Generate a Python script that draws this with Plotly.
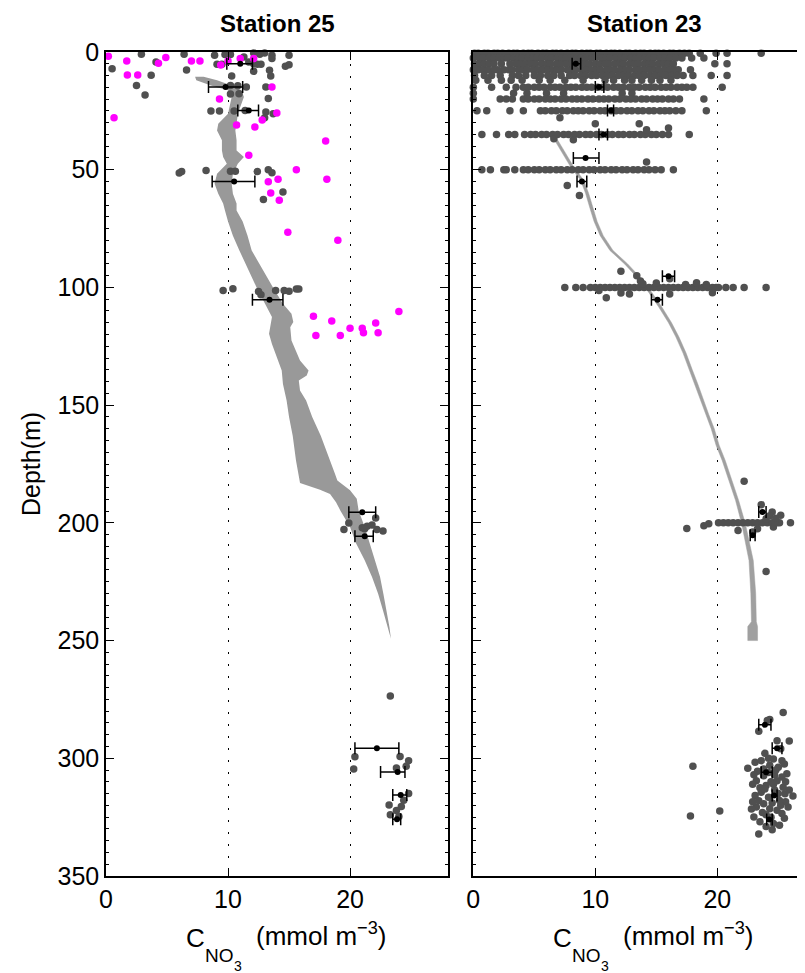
import plotly.graph_objects as go

# ---------------- Station 25 ----------------
s25_dots_x = [2.9, 6.4, 8.9, 9.75, 10.2, 11.3, 12.1, 12.6, 13.0, 13.6, 13.6, 15.0, 9.1, 9.5, 11.7, 12.1, 12.4, 12.7,
              14.7, 15.0, 0.5, 4.1, 6.6, 12.1, 13.4, 10.3, 13.5, 3.7, 2.5, 3.2, 10.2, 10.8, 11.5, 13.1, 10.2, 10.9,
              13.3, 8.6, 9.3, 10.5, 11.4, 13.1, 13.7, 13.0, 6.0, 6.2, 8.2, 10.2, 10.6, 12.4, 13.3, 13.6, 14.5, 12.9,
              9.6, 10.4, 12.5, 12.7, 13.9, 14.6, 15.0, 15.6, 15.8,
              22.1, 19.9, 19.5, 21.0, 21.4, 21.8, 22.2, 22.7, 21.2,
              23.3, 20.4, 20.3, 24.1, 24.8, 24.6, 23.8, 24.8, 24.4, 23.2, 24.2, 23.8, 23.3, 24.0]
s25_dots_y = [1.0, 1.0, 1.4, 1.1, 1.1, 2.1, 0.4, 1.0, 0.4, 1.4, 2.8, 1.4, 5.2, 5.2, 4.2, 5.0, 5.2, 5.2,
              6.1, 5.4, 7.1, 4.2, 7.6, 8.2, 7.8, 10.2, 10.2, 9.9, 14.2, 18.3, 14.2, 14.3, 14.9, 14.9, 17.8, 17.7,
              19.8, 25.1, 25.1, 25.1, 24.8, 25.5, 26.2, 27.9, 51.4, 50.8, 50.3, 50.6, 50.6, 50.8, 50.0, 51.3, 59.5, 62.7,
              101.3, 100.6, 101.7, 103.1, 101.3, 101.3, 101.6, 100.7, 100.7,
              197.9, 200.1, 202.8, 202.1, 201.4, 200.9, 202.8, 203.5, 202.5,
              273.5, 299.3, 304.5, 299.2, 301.0, 303.4, 304.1, 315.0, 317.8, 319.8, 320.5, 322.2, 324.0, 324.7]

s25_magenta_x = [0.19, 1.7, 4.9, 4.3, 7.0, 7.7, 1.75, 2.6, 9.4, 10.0, 11.0, 12.1, 13.6, 9.3, 14.0, 12.8, 0.66,
                 10.7, 12.2, 18.0, 11.7, 15.6, 18.1, 14.1, 13.3, 13.5, 14.2, 14.9, 19.0,
                 17.0, 18.5, 17.2, 19.2, 20.0, 21.0, 21.1, 22.1, 22.3, 24.0]
s25_magenta_y = [1.8, 3.8, 2.3, 4.8, 3.8, 3.8, 9.8, 9.8, 5.5, 3.8, 2.8, 2.8, 14.9, 20.0, 25.9, 28.9, 27.9,
                 31.0, 31.9, 37.8, 43.9, 50.0, 54.0, 54.0, 55.1, 59.9, 63.0, 76.6, 80.0,
                 112.2, 114.3, 120.4, 120.4, 117.3, 117.3, 119.2, 115.1, 119.2, 110.2]

s25_err_depth = [5.0, 14.9, 24.8, 55.0, 105.2, 195.5, 205.7, 295.7, 305.8, 315.6, 325.9]
s25_err_mean = [11.0, 9.8, 11.7, 10.5, 13.4, 21.0, 21.2, 22.2, 23.9, 24.15, 23.85]
s25_err_lo = [9.9, 8.4, 10.8, 8.7, 12.0, 19.9, 20.4, 20.4, 22.5, 23.5, 23.5]
s25_err_hi = [12.0, 11.2, 12.5, 12.2, 14.5, 22.1, 21.9, 24.0, 24.5, 24.65, 24.15]

s25_band_left_depth = [10.5, 12.0, 14.2, 16.3, 19.1, 22.0, 26.2, 30.5, 33.3, 37.5, 41.8, 44.6, 47.5, 51.7, 56.0,
                       60.2, 64.4, 67.3, 72.0, 78.0, 84.3, 100.1, 109.8, 112.6, 119.7, 124.0, 135.3, 141.0, 148.0,
                       155.0, 163.0, 173.5, 183.1, 185.9, 187.7, 191.2, 194.7, 201.8, 208.8, 215.9, 223.0, 230.1,
                       237.2, 244.3, 249.2]
s25_band_left_x = [7.3, 7.4, 8.6, 10.0, 10.3, 10.2, 10.0, 9.2, 9.1, 9.5, 9.5, 9.6, 9.9, 9.1, 8.9,
                   9.2, 9.6, 9.75, 10.0, 10.4, 10.93, 12.35, 13.3, 13.6, 13.36, 13.6, 14.4, 14.5, 14.8,
                   15.0, 15.3, 15.57, 15.9, 17.54, 18.36, 18.85, 19.2, 20.0, 20.5, 21.2, 21.8, 22.3,
                   22.7, 23.06, 23.35]
s25_band_right_depth = [10.5, 12.0, 14.2, 16.3, 19.1, 22.0, 26.2, 30.5, 33.3, 37.5, 41.8, 44.6, 47.5, 51.7, 56.0,
                        60.2, 64.4, 67.3, 72.0, 78.0, 84.3, 100.1, 106.9, 111.2, 114.7, 116.9, 122.5, 131.0, 135.3,
                        137.4, 139.5, 143.8, 148.0, 155.0, 163.0, 173.5, 179.2, 182.0, 186.2, 189.8, 194.7, 201.8,
                        208.8, 215.9, 223.0, 230.1, 237.2, 244.3, 249.2]
s25_band_right_x = [8.0, 9.1, 10.3, 11.1, 11.3, 11.1, 10.8, 10.7, 10.6, 10.7, 10.7, 11.3, 10.8, 10.4, 10.3,
                    10.4, 10.7, 10.7, 11.2, 11.6, 11.94, 13.7, 14.5, 15.2, 15.35, 15.1, 15.2, 15.9, 16.6,
                    16.45, 15.8, 15.9, 16.4, 16.9, 17.6, 18.36, 18.77, 18.96, 20.0, 20.55, 20.7, 21.2,
                    21.6, 22.05, 22.46, 22.73, 23.0, 23.23, 23.35]

# ---------------- Station 23 ----------------
s23_row_depth = [0.5, 2.5, 5.0, 7.5, 10.0, 12.0, 15.0, 17.5, 20.0, 25.0, 35.0, 50.0, 100.0, 200.0]
s23_row_x = [
    [0.1, 0.4, 0.9, 1.2, 1.7, 2.0, 2.4, 2.9, 3.3, 3.6, 4.1, 4.5, 4.8, 5.3, 5.7, 6.0, 6.5, 6.8, 7.2, 7.7, 8.1, 8.4,
     8.9, 9.3, 9.6, 10.1, 10.4, 10.9, 11.3, 11.6, 12.0, 12.5, 12.8, 13.3, 13.7, 14.0, 14.5, 14.9, 15.2, 15.6, 16.1,
     16.4, 16.9, 17.3, 17.7, 18.6, 19.9, 20.8, 23.6],
    [0.0, 0.5, 0.8, 1.3, 1.7, 2.1, 2.5, 2.8, 3.3, 3.7, 4.0, 4.5, 4.9, 5.2, 5.6, 6.1, 6.4, 6.9, 7.3, 7.6, 8.0, 8.5,
     8.8, 9.2, 9.7, 10.0, 10.5, 10.9, 11.2, 11.7, 12.1, 12.4, 12.9, 13.3, 13.6, 14.1, 14.4, 14.8, 15.3, 15.7, 16.1,
     16.6, 17.1, 17.9, 18.9],
    [0.1, 0.5, 0.9, 1.3, 1.7, 2.3, 3.0, 3.5, 3.9, 4.3, 4.7, 5.1, 5.6, 6.0, 6.3, 6.8, 7.2, 7.6, 8.0, 8.3, 8.8, 9.2,
     9.5, 10.0, 10.4, 10.8, 11.1, 11.6, 12.0, 12.3, 12.8, 13.2, 13.5, 14.0, 14.4, 14.7, 15.2, 15.6, 16.0, 16.4,
     19.8, 20.8],
    [0.0, 0.4, 0.8, 1.2, 1.7, 2.0, 2.5, 2.9, 3.2, 3.7, 4.1, 4.4, 4.9, 5.3, 5.7, 6.1, 6.5, 6.9, 7.2, 7.7, 8.1, 8.4,
     8.9, 9.3, 9.7, 10.1, 10.4, 10.9, 11.3, 11.6, 12.1, 12.5, 12.8, 13.3, 13.7, 14.1, 14.5, 14.9, 15.2, 15.7, 16.1,
     16.5, 16.8, 17.8],
    [0.1, 0.9, 1.5, 2.2, 3.2, 3.7, 4.3, 5.0, 5.5, 6.1, 6.6, 7.2, 7.9, 8.3, 8.8, 9.2, 9.7, 10.1, 10.6, 11.0, 11.4,
     11.9, 12.3, 12.7, 13.2, 13.6, 14.0, 14.5, 14.9, 15.4, 15.8, 16.3, 16.7, 17.2, 18.0, 19.5, 20.8],
    [0.2, 1.2, 2.3, 3.1, 4.0, 5.4, 6.3, 7.5, 9.0, 10.8, 11.5, 12.4, 13.0, 13.8, 14.6, 15.3, 16.2],
    [0.0, 1.5, 2.7, 3.5, 4.1, 4.5, 5.0, 5.4, 5.8, 6.3, 6.7, 7.1, 7.6, 8.0, 8.4, 8.9, 9.3, 9.7, 10.2, 10.6, 11.0,
     11.5, 11.9, 12.3, 12.8, 13.2, 13.6, 14.1, 14.5, 14.9, 15.4, 15.8, 16.2, 16.7, 17.1, 17.5, 18.0, 20.4],
    [0.0, 3.3, 4.4, 6.0, 7.4, 12.2, 13.0],
    [0.0, 2.2, 2.7, 3.2, 4.1, 4.5, 5.0, 5.4, 5.9, 6.3, 6.7, 7.2, 7.6, 8.1, 8.5, 8.9, 9.4, 9.8, 10.3, 10.7, 11.1,
     11.6, 12.0, 12.5, 12.9, 13.3, 13.8, 14.2, 14.7, 15.1, 15.5, 16.0, 16.4, 16.9, 18.9],
    [0.3, 1.1, 3.0, 4.1, 5.5, 5.9, 6.4, 6.8, 7.3, 7.7, 8.2, 8.6, 9.0, 9.5, 9.9, 10.4, 10.8, 11.3, 11.7, 12.1, 12.6,
     13.0, 13.5, 13.9, 14.4, 14.8, 15.3, 15.7, 16.1, 16.6, 17.1, 19.1],
    [0.7, 1.9, 2.9, 3.4, 4.2, 4.7, 5.1, 5.6, 6.0, 6.5, 6.9, 7.4, 7.8, 8.3, 8.7, 9.2, 9.6, 10.1, 10.5, 11.0, 11.4,
     11.9, 12.3, 12.8, 13.2, 13.7, 14.1, 14.6, 15.0, 15.5, 16.0, 17.7],
    [0.7, 1.4, 2.5, 2.7, 3.4, 4.1, 4.5, 5.0, 5.4, 5.9, 6.3, 6.8, 7.2, 7.7, 8.1, 8.6, 9.0, 9.5, 9.9, 10.4, 10.8,
     11.3, 11.7, 12.2, 12.6, 13.1, 13.5, 14.0, 14.4, 14.9, 15.4, 16.4],
    [7.5, 8.4, 9.0, 9.6, 10.0, 10.4, 10.8, 11.2, 11.6, 12.0, 12.4, 12.8, 13.2, 13.6, 14.0, 14.4, 14.8, 15.2, 15.6,
     16.0, 16.4, 16.8, 17.2, 17.6, 18.0, 18.4, 18.8, 19.2, 19.6, 19.9, 20.1, 20.7, 21.3, 22.2, 24.0],
    [20.1, 20.5, 20.9, 21.3, 21.7, 22.1, 22.5, 22.9, 23.3, 23.7, 24.1, 24.5, 24.9, 25.1, 26.0],
]

s23_extra_x = [7.1, 10.0, 13.6, 16.0, 14.2, 6.6, 8.2, 14.2, 7.7, 8.7,
               12.1, 13.4, 13.7, 13.9, 15.0, 17.4, 18.3, 19.1, 10.9, 12.1, 12.8, 16.1, 19.6, 10.3, 16.1,
               22.2, 23.6, 24.5, 25.2, 24.6, 21.7, 22.9, 24.0, 24.0, 24.7, 17.5, 18.9, 19.3, 24.3, 24.8, 23.3,
               25.4, 23.4, 24.1, 24.9, 25.9, 23.9, 18.0, 17.8, 20.2, 27.1, 24.3, 25.2]
s23_extra_y = [27.9, 30.5, 30.5, 32.3, 33.0, 36.8, 37.3, 46.7, 56.7, 61.0,
               93.1, 95.0, 97.3, 98.4, 98.1, 98.8, 98.0, 98.8, 104.4, 102.4, 102.8, 102.8, 102.3, 101.3, 96.3,
               182.3, 192.3, 195.4, 196.8, 201.8, 203.2, 203.9, 220.7, 198.3, 199.7, 202.4, 201.2, 200.4, 197.0, 198.0, 202.5,
               280.6, 288.5, 284.0, 292.5, 292.7, 297.9, 303.4, 324.5, 322.4, 314.0, 283.5, 296.0]

s23_cluster_x = [22.5, 23.1, 23.6, 24.2, 24.6, 25.3, 25.5, 25.0, 24.3, 23.8, 23.3, 25.7, 25.3, 24.7, 23.8, 23.2,
                 24.0, 24.9, 25.4, 24.4, 23.5, 25.55, 23.1, 23.6, 24.2, 25.1, 24.7, 25.8, 23.2, 23.8, 24.3, 24.9,
                 25.3, 23.0, 23.5, 24.6, 25.1, 24.5, 23.4, 24.0, 25.6, 24.5, 23.4, 23.9, 25.0, 25.9, 22.9, 24.2,
                 23.0, 25.6, 24.4, 24.0, 25.5, 22.8, 26.2, 23.7, 24.8, 22.9, 24.6, 25.2]
s23_cluster_y = [304.2, 301.7, 301.0, 300.0, 300.3, 301.0, 302.4, 303.8, 303.0, 304.5, 305.5, 306.6, 308.0, 307.0,
                 307.4, 309.5, 311.6, 309.5, 312.3, 310.0, 312.5, 315.1, 315.8, 314.4, 316.5, 317.9, 313.5, 320.7,
                 320.7, 319.3, 321.4, 322.1, 323.5, 324.9, 327.0, 327.7, 328.4, 330.4, 332.2, 324.0, 318.5, 319.0,
                 318.0, 313.0, 315.0, 313.5, 311.0, 306.0, 307.0, 310.0, 325.0, 329.0, 325.5, 321.5, 316.0, 323.0,
                 305.0, 318.5, 311.0, 320.0]

s23_err_depth = [5.0, 14.9, 24.8, 35.0, 45.0, 55.0, 95.2, 105.2, 195.4, 205.3, 285.8, 295.7, 305.9, 315.8, 326.0]
s23_err_mean = [8.4, 10.3, 11.3, 10.7, 9.2, 8.9, 16.0, 15.1, 23.7, 22.9, 23.9, 24.9, 24.0, 24.65, 24.25]
s23_err_lo = [8.1, 10.0, 11.0, 10.3, 8.2, 8.5, 15.5, 14.6, 23.4, 22.7, 23.4, 24.5, 23.6, 24.5, 24.05]
s23_err_hi = [8.8, 10.7, 11.5, 11.0, 10.3, 9.3, 16.5, 15.5, 24.0, 23.1, 24.4, 25.3, 24.5, 24.9, 24.5]

s23_band_depth = [36.0, 42.0, 49.0, 54.5, 60.0, 67.0, 72.0, 78.0, 84.3, 90.0, 95.0, 100.0, 108.3, 115.0, 121.0,
                  128.0, 135.0, 141.0, 147.0, 154.0, 160.0, 167.0, 173.5, 182.0, 190.5, 200.4, 208.0, 216.0,
                  230.0, 242.0, 244.0, 250.0]
s23_band_left = [6.5, 7.2, 8.0, 8.8, 9.2, 9.6, 9.9, 10.4, 11.2, 12.4, 13.3, 14.1, 15.2, 16.0, 16.6,
                 17.2, 17.7, 18.15, 18.6, 19.05, 19.5, 19.9, 20.4, 20.95, 21.5, 22.0, 22.3, 22.6,
                 22.75, 22.8, 22.5, 22.5]
s23_band_right = [6.75, 7.45, 8.25, 9.05, 9.45, 9.85, 10.15, 10.65, 11.45, 12.65, 13.55, 14.35, 15.45, 16.25, 16.85,
                  17.45, 17.95, 18.4, 18.85, 19.3, 19.75, 20.15, 20.65, 21.2, 21.75, 22.3, 22.6, 22.95,
                  23.15, 23.2, 23.3, 23.3]

xticks = [0, 10, 20]
yticks = [0, 50, 100, 150, 200, 250, 300, 350]

DOT = "#505050"
BAND = "#999999"
FONT = "Liberation Sans, Arial, Helvetica, sans-serif"
DOT_SIZE = 7.5

fig = go.Figure()

# Station 25 band
fig.add_trace(go.Scatter(
    x=s25_band_left_x + s25_band_right_x[::-1],
    y=s25_band_left_depth + s25_band_right_depth[::-1],
    fill="toself", fillcolor=BAND, line=dict(width=0, color=BAND), mode="lines",
    xaxis="x", yaxis="y", hoverinfo="skip"))
fig.add_trace(go.Scatter(x=s25_dots_x, y=s25_dots_y, mode="markers", cliponaxis=False,
                         marker=dict(color=DOT, size=DOT_SIZE), xaxis="x", yaxis="y"))
fig.add_trace(go.Scatter(x=s25_magenta_x, y=s25_magenta_y, mode="markers", cliponaxis=False,
                         marker=dict(color="#ff00ff", size=DOT_SIZE), xaxis="x", yaxis="y"))
fig.add_trace(go.Scatter(
    x=s25_err_mean, y=s25_err_depth, mode="markers", cliponaxis=False,
    marker=dict(color="black", size=6),
    error_x=dict(type="data", symmetric=False,
                 array=[h - m for h, m in zip(s25_err_hi, s25_err_mean)],
                 arrayminus=[m - l for l, m in zip(s25_err_lo, s25_err_mean)],
                 color="black", thickness=1.5, width=6),
    xaxis="x", yaxis="y"))

# Station 23
fig.add_trace(go.Scatter(
    x=s23_band_left + s23_band_right[::-1],
    y=s23_band_depth + s23_band_depth[::-1],
    fill="toself", fillcolor="#a0a0a0", line=dict(width=0.5, color="#a0a0a0"), mode="lines",
    xaxis="x2", yaxis="y2", hoverinfo="skip"))
row_x, row_y = [], []
for d, xs in zip(s23_row_depth, s23_row_x):
    row_x += xs
    row_y += [d] * len(xs)
fig.add_trace(go.Scatter(x=row_x + s23_extra_x + s23_cluster_x,
                         y=row_y + s23_extra_y + s23_cluster_y,
                         mode="markers", cliponaxis=False,
                         marker=dict(color=DOT, size=DOT_SIZE), xaxis="x2", yaxis="y2"))
fig.add_trace(go.Scatter(
    x=s23_err_mean, y=s23_err_depth, mode="markers", cliponaxis=False,
    marker=dict(color="black", size=6),
    error_x=dict(type="data", symmetric=False,
                 array=[h - m for h, m in zip(s23_err_hi, s23_err_mean)],
                 arrayminus=[m - l for l, m in zip(s23_err_lo, s23_err_mean)],
                 color="black", thickness=1.5, width=6),
    xaxis="x2", yaxis="y2"))

axis_common = dict(
    showline=True, linecolor="black", linewidth=1.5,
    ticks="inside", ticklen=8, tickwidth=1, tickcolor="black",
    tickfont=dict(family=FONT, size=25, color="black"),
    zeroline=False,
)
xgrid = dict(showgrid=True, gridcolor="black", gridwidth=1, griddash="1.5px,10.5px")

# the page has an 8px body margin, so the figure is sized 797x965 and shifted by -8px
PLOT_L, PLOT_T, PLOT_W, PLOT_H = 106, 52, 699, 824   # plot area in page pixels
fig.update_layout(
    width=797, height=965,
    margin=dict(l=98, r=0, t=44, b=97),
    paper_bgcolor="white", plot_bgcolor="white",
    showlegend=False,
    xaxis=dict(domain=[0, 0.4888], range=[0, 28], tickvals=xticks, mirror="ticks",
               anchor="y", **xgrid, **axis_common),
    yaxis=dict(range=[350, 0], tickvals=yticks, mirror="ticks", anchor="x", showgrid=False,
               minor=dict(ticks="inside", ticklen=3, dtick=5, tickcolor="black", showgrid=False),
               **axis_common),
    xaxis2=dict(domain=[0.5255, 1], range=[0, 27.19], tickvals=xticks, mirror="ticks",
                anchor="y2", **xgrid, **axis_common),
    yaxis2=dict(range=[350, 0], tickvals=yticks, mirror=False, anchor="x2", showgrid=False,
                showticklabels=False,
                minor=dict(ticks="inside", ticklen=3, dtick=5, tickcolor="black", showgrid=False),
                **axis_common),
)


def px(x):
    return (x - PLOT_L) / PLOT_W


def py(y):
    return (PLOT_T + PLOT_H - y) / PLOT_H


ann = [
    dict(text="<b>Station 25</b>", x=px(277), y=py(23), xanchor="center", yanchor="middle",
         font=dict(family=FONT, size=24, color="black")),
    dict(text="<b>Station 23</b>", x=px(644), y=py(23), xanchor="center", yanchor="middle",
         font=dict(family=FONT, size=24, color="black")),
    dict(text="Depth(m)", x=px(31), y=py(464), xanchor="center", yanchor="middle",
         textangle=-90, font=dict(family=FONT, size=25, color="black")),
]
# x-axis label "C_NO3 (mmol m^-3)" with a subscript and a sub-subscript
label_parts = [
    ("C", 0, 938, 26),
    ("NO", 19, 955, 19),
    ("3", 48, 966, 14),
    ("(mmol m<sup>\u22123</sup>)", 70, 934, 26),
]
for start in (184, 184 + 367.3):
    for txt, dx, yy, fs in label_parts:
        ann.append(dict(text=txt, x=px(start + dx), y=py(yy), xanchor="left", yanchor="middle",
                        font=dict(family=FONT, size=fs, color="black")))
for a in ann:
    a.update(xref="paper", yref="paper", showarrow=False)
fig.update_layout(annotations=ann)

fig.write_html("out.html")
